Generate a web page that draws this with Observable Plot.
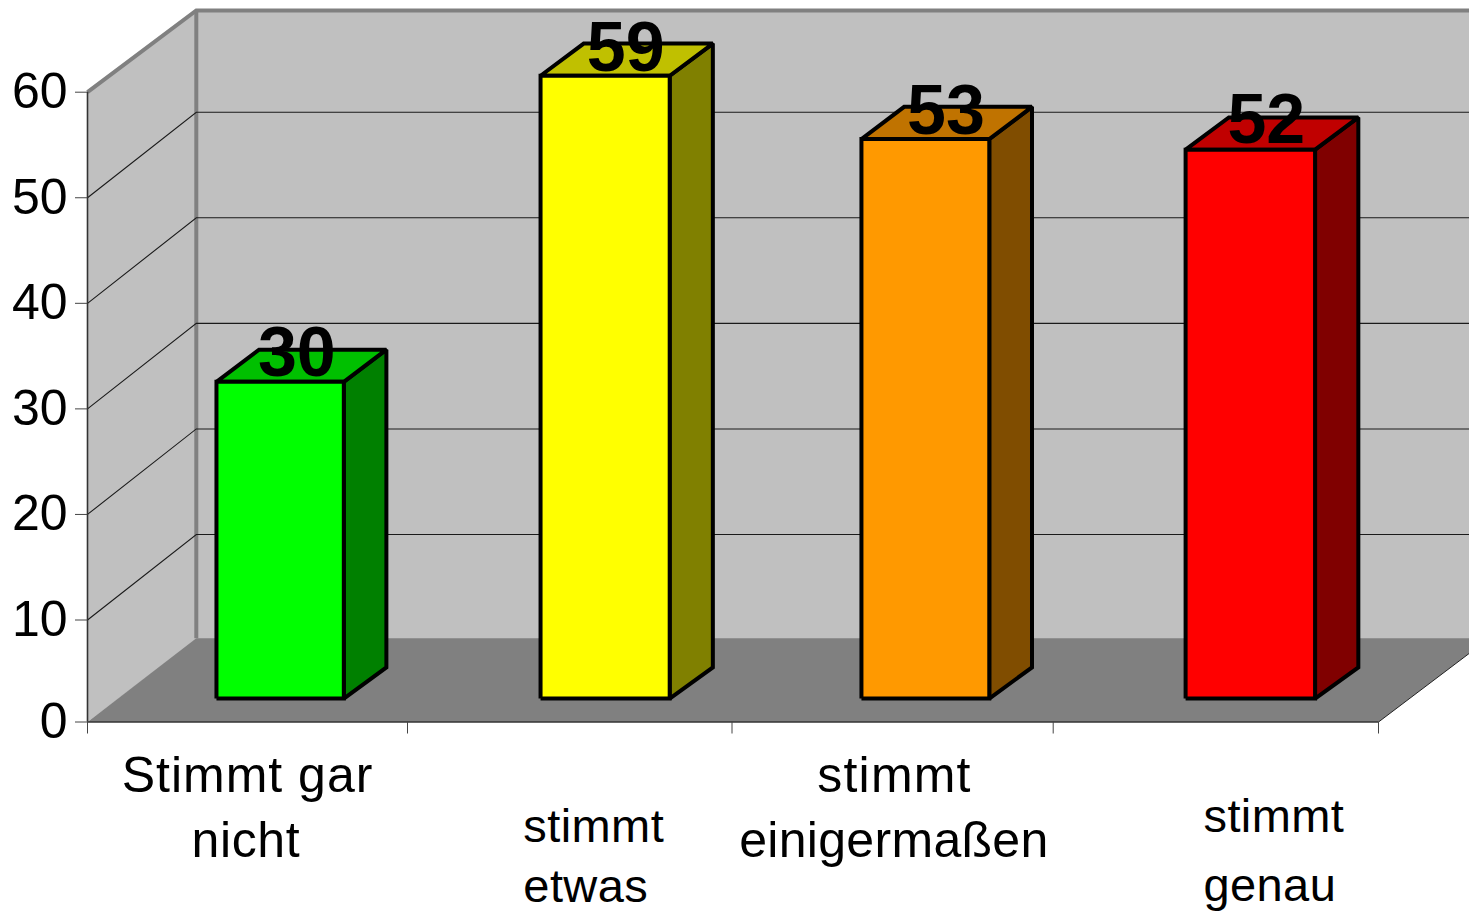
<!DOCTYPE html>
<html lang="de">
<head>
<meta charset="utf-8">
<title>Stimmt gar nicht bis stimmt genau</title>
<script src="https://cdn.jsdelivr.net/npm/d3@7"></script>
<script src="https://cdn.jsdelivr.net/npm/@observablehq/plot@0.6"></script>
<style>
  html, body { margin: 0; padding: 0; background: #fff; overflow: hidden; }
</style>
</head>
<body>
<div id="chart"></div>
<script>
// Response categories and their counts
const categories = ["Stimmt gar nicht", "stimmt etwas", "stimmt einigermaßen", "stimmt genau"];
const counts = [30, 59, 53, 52];
const valueTicks = [0, 10, 20, 30, 40, 50, 60];
const categoryTicks = [0, 1, 2, 3, 4];

// Face colours of each bar
const frontColors = ["#00FF00", "#FFFF00", "#FF9900", "#FF0000"];
const topColors = ["#00C000", "#C0C000", "#C07300", "#C00000"];
const sideColors = ["#008000", "#808000", "#804D00", "#800000"];

// Oblique projection, expressed in scale units
const roomDepthX = 0.34;
const roomDepthY = 8.1;
const floorDepthY = 8.2;
const roomTop = 67.74;
const barStarts = [0.403, 1.41, 2.403, 3.407];
const barWidth = 0.398;
const barDepthX = 0.133;
const barDepthY = 3.05;
const barFloorLift = 2.3;
const barTopLift = 2.56;

// Fine placement of the value labels above the bars
const labelShiftX = [0.003, 0.014, 0.015, 0];
const labelShiftY = [0.1, 0, 0, 0.2];

// Category captions, one entry per drawn line
const captionLines = [
  {text: "Stimmt gar", pos: 0.5, anchor: "middle", drop: 70, size: 50, spacing: 1},
  {text: "nicht", pos: 0.495, anchor: "middle", drop: 135, size: 50, spacing: 0.6},
  {text: "stimmt", pos: 1.357, anchor: "start", drop: 120, size: 47, spacing: 0.4},
  {text: "etwas", pos: 1.357, anchor: "start", drop: 180, size: 47, spacing: 0.4},
  {text: "stimmt", pos: 2.506, anchor: "middle", drop: 70, size: 50, spacing: 1.2},
  {text: "einigermaßen", pos: 2.504, anchor: "middle", drop: 135, size: 50, spacing: 0.3},
  {text: "stimmt", pos: 3.462, anchor: "start", drop: 110, size: 47, spacing: 0.4},
  {text: "genau", pos: 3.462, anchor: "start", drop: 179, size: 47, spacing: 0.4}
];

// A filled outline through [x, y] pairs given in scale units
const polygon = (points, options) => Plot.line(
  points.map(([x, y]) => ({x, y})),
  {x: "x", y: "y", curve: "linear", strokeLinejoin: "miter", strokeMiterlimit: 2, strokeLinecap: "butt", ...options}
);

const room = [
  polygon([[0, 0], [roomDepthX, roomDepthY], [4 + roomDepthX, roomDepthY], [4 + roomDepthX, roomTop], [roomDepthX, roomTop], [roomDepthX, roomDepthY]], {fill: "#C0C0C0", stroke: "none"}),
  polygon([[0, 0], [roomDepthX, roomDepthY], [roomDepthX, roomTop], [0, 60], [0, 0]], {fill: "#C0C0C0", stroke: "none"}),
  polygon([[roomDepthX, floorDepthY], [roomDepthX, roomTop]], {stroke: "#808080", strokeWidth: 4}),
  polygon([[0, 60], [roomDepthX, roomTop], [4 + roomDepthX, roomTop]], {stroke: "#808080", strokeWidth: 4}),
  polygon([[0, 0], [roomDepthX, floorDepthY], [4 + roomDepthX, floorDepthY], [4, 0], [0, 0]], {fill: "#808080", stroke: "none"}),
  polygon([[4, 0], [4 + roomDepthX, floorDepthY]], {stroke: "#222", strokeWidth: 1})
];

const gridlines = valueTicks.slice(1, -1).map((v) =>
  polygon([[0, v], [roomDepthX, v + roomDepthY], [4 + roomDepthX, v + roomDepthY]], {stroke: "#1a1a1a", strokeWidth: 1.1})
);

const bars = counts.flatMap((count, i) => {
  const x0 = barStarts[i], x1 = x0 + barWidth;
  const xb0 = x0 + barDepthX, xb1 = x1 + barDepthX;
  const y0 = barFloorLift, y1 = count + barTopLift;
  const outline = {stroke: "#000", strokeWidth: 4};
  return [
    polygon([[x1, y0], [xb1, y0 + barDepthY], [xb1, y1 + barDepthY], [x1, y1], [x1, y0]], {fill: sideColors[i], ...outline}),
    polygon([[x0, y1], [x1, y1], [xb1, y1 + barDepthY], [xb0, y1 + barDepthY], [x0, y1]], {fill: topColors[i], ...outline}),
    polygon([[x0, y0], [x1, y0], [x1, y1], [x0, y1], [x0, y0]], {fill: frontColors[i], ...outline})
  ];
});

const valueLabels = Plot.text(counts, {
  x: (d, i) => barStarts[i] + barWidth / 2 + barDepthX / 2.7 + labelShiftX[i],
  y: (d, i) => d + barTopLift + labelShiftY[i],
  text: (d) => String(d),
  dy: -5,
  lineAnchor: "bottom",
  fontSize: 70,
  fontWeight: 700,
  fill: "#000"
});

// Caption lines carry their own tracking, applied to the rendered group
const captions = captionLines.map((line) =>
  Plot.text([line], {
    x: "pos",
    y: () => 0,
    text: "text",
    dy: line.drop,
    textAnchor: line.anchor,
    lineAnchor: "bottom",
    fontSize: line.size,
    fill: "#000",
    render(index, scales, values, dimensions, context, next) {
      const group = next(index, scales, values, dimensions, context);
      group.style.letterSpacing = `${line.spacing}px`;
      return group;
    }
  })
);

const chart = Plot.plot({
  width: 1469,
  height: 912,
  marginLeft: 87,
  marginRight: 91,
  marginTop: 91.7,
  marginBottom: 190.5,
  style: {fontFamily: "'Liberation Sans', Arial, sans-serif", background: "#fff", color: "#000"},
  x: {type: "linear", domain: categoryTicks, range: [87, 407, 731.5, 1052.7, 1378]},
  y: {type: "linear", domain: [0, 10, 60], range: [721.5, 619.5, 91.7]},
  marks: [
    ...room,
    ...gridlines,
    Plot.ruleX([0], {y1: 0, y2: 60, stroke: "#333", strokeWidth: 1.6}),
    Plot.ruleY([0], {x1: 0, x2: 4, stroke: "#333", strokeWidth: 1.6}),
    Plot.axisY({ticks: valueTicks, tickSize: 12, tickPadding: 8, fontSize: 50, stroke: "#444", label: null}),
    Plot.axisX({ticks: categoryTicks, tickSize: 12, tickFormat: () => "", stroke: "#444", label: null}),
    ...bars,
    valueLabels,
    ...captions
  ]
});
document.getElementById("chart").append(chart);
</script>
</body>
</html>
